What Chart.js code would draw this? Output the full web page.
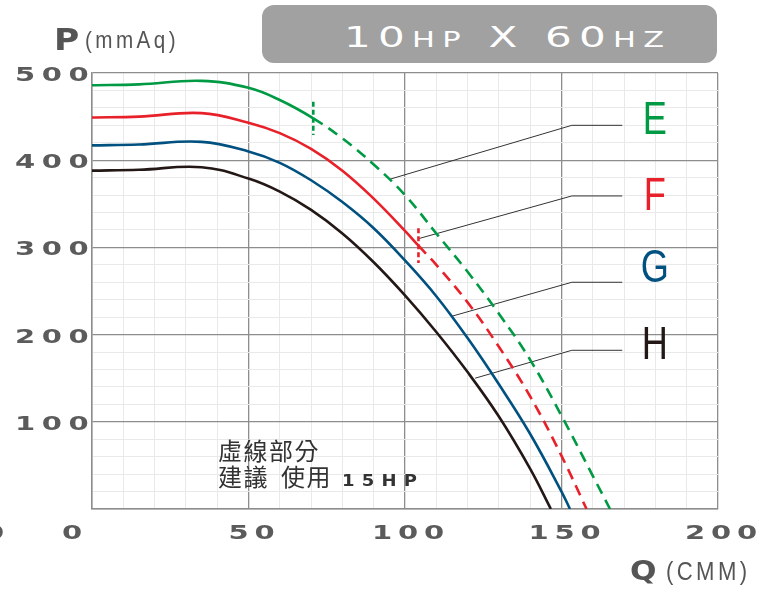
<!DOCTYPE html>
<html>
<head>
<meta charset="utf-8">
<script src="https://cdn.jsdelivr.net/npm/chart.js@4/dist/chart.umd.min.js"></script>
<style>
  body { margin: 0; background: #fff; }
  #wrap { position: relative; width: 765px; height: 593px; overflow: hidden; }
  #myChart { position: absolute; left: 0; top: 0; }
  .t { position: absolute; white-space: nowrap; line-height: 1; }
  #titleBox { position: absolute; left: 262px; top: 5px; width: 455px; height: 58px; background: #a1a1a1; border-radius: 12px; }
  #title { left: 344px; top: 23px; font-family: "DejaVu Sans"; font-size: 29px; color: #fff; letter-spacing: 5px; transform: scaleX(1.45); transform-origin: left top; }
  #title .sm { font-size: 21px; }
  #pTitle { left: 54px; top: 25px; font-family: "DejaVu Sans"; font-weight: bold; font-size: 30px; color: #555; transform: scaleX(1.15); transform-origin: left top; }
  #pUnit { left: 85px; top: 28px; font-family: "Liberation Sans"; font-size: 24px; color: #555; letter-spacing: 4px; transform: scaleX(0.86); transform-origin: left top; }
  #qTitle { left: 630px; top: 558px; font-family: "DejaVu Sans"; font-weight: bold; font-size: 26px; color: #555; transform: scaleX(1.2); transform-origin: left top; }
  #qUnit { left: 666px; top: 558px; font-family: "Liberation Sans"; font-size: 26px; color: #555; letter-spacing: 4px; transform: scaleX(0.85); transform-origin: left top; }
  .note { left: 218px; font-family: "Noto Sans CJK TC"; font-size: 24px; color: #333; letter-spacing: 1.5px; }
  .note .hp { display: inline-block; font-family: "DejaVu Sans"; font-weight: bold; font-size: 15px; letter-spacing: 6px; margin-left: 10px; transform: scaleX(1.2); transform-origin: left bottom; }
</style>
</head>
<body>
<div id="wrap">
  <canvas id="myChart" width="765" height="593"></canvas>
  <div id="titleBox"></div>
  <div class="t" id="title">10<span class="sm">HP</span> X 60<span class="sm">HZ</span></div>
  <div class="t" id="pTitle">P</div>
  <div class="t" id="pUnit">(mmAq)</div>
  <div class="t" id="qTitle">Q</div>
  <div class="t" id="qUnit">(CMM)</div>
  <div class="t note" style="top:438px">虛線部分</div>
  <div class="t note" style="top:464px">建議<span style="margin-left:12px">使用</span><span class="hp">15HP</span></div>
</div>
<script>
// curve E (green) - dashed after the marker
const qE = [0, 15, 35, 50, 60, 70.7, 80, 90, 100, 110, 120, 130, 140, 150, 160, 165.5];
const pE = [486, 487, 491, 483, 469, 448, 425, 395, 360, 316, 272, 224, 171, 107, 38, 0];
const dashFromE = 70.7;

// curve F (red)
const qF = [0, 15, 35, 50, 60, 70, 80, 90, 100, 104.3, 110, 120, 130, 140, 150, 158];
const pF = [449, 450, 454, 443, 431, 413, 388, 356, 319, 302, 280, 237, 186, 129, 61, 0];
const dashFromF = 104.3;

// curve G (blue)
const qG = [0, 15, 35, 50, 60, 70, 80, 90, 100, 110, 120, 130, 140, 150, 152.7];
const pG = [417, 418, 421, 410, 397, 377, 352, 322, 285, 244, 196, 143, 86, 20, 0];

// curve H (black)
const qH = [0, 15, 35, 50, 60, 70, 80, 90, 100, 110, 120, 130, 140, 146.6];
const pH = [388, 389, 392, 379, 364, 343, 316, 283, 245, 203, 157, 106, 46, 0];

// short vertical markers where the dashed part starts
const markE = { q: 70.7, p: [467, 429] };
const markF = { q: 104.3, p: [322, 282] };

// leader lines: point on curve -> knee -> end
const leadQ = [[95, 153.3, 169.4], [104.3, 153.3, 169.4], [114.9, 153.3, 169.4], [122.4, 153.3, 169.4]];
const leadP = [[378, 440, 440], [310, 359, 359], [221, 260, 260], [150, 182, 182]];

const curveNames = ["E", "F", "G", "H"];
const labelQ = 179.8;
const labelP = [450, 362, 280, 192];

const xTickLabels = [0, 50, 100, 150, 200];
const yTickLabels = [100, 200, 300, 400, 500];

const colors = ["#009a44", "#e8202a", "#00517f", "#231815"];

const pts = (qs, ps) => qs.map((q, i) => ({ x: q, y: ps[i] }));

function curve(qs, ps, color, dashFrom) {
  return {
    data: pts(qs, ps),
    borderColor: color,
    borderWidth: 2.6,
    tension: 0.4,
    pointRadius: 0,
    segment: {
      borderDash: c => (dashFrom !== undefined && c.p0.parsed.x >= dashFrom ? [11, 7] : undefined)
    }
  };
}

function marker(m, color) {
  return {
    data: [{ x: m.q, y: m.p[0] }, { x: m.q, y: m.p[1] }],
    borderColor: color,
    borderWidth: 2.6,
    borderDash: [5, 3],
    pointRadius: 0
  };
}

const leaders = leadQ.map((qs, i) => ({
  data: pts(qs, leadP[i]),
  borderColor: "#333",
  borderWidth: 1,
  pointRadius: 0,
  tension: 0
}));

// wide, letter spaced digits like the original tick font
function wideText(ctx, str, cx, cy, pitch, sx) {
  const n = str.length;
  for (let i = 0; i < n; i++) {
    const x = cx + (i - (n - 1) / 2) * pitch;
    ctx.save();
    ctx.translate(x, cy);
    ctx.scale(sx, 1);
    ctx.fillText(str[i], 0, 0);
    ctx.restore();
  }
}

const decor = {
  id: "decor",
  afterDatasetsDraw(chart) {
    const ctx = chart.ctx;
    const xs = chart.scales.x, ys = chart.scales.y;

    // curve names
    ctx.save();
    ctx.font = '47px "Liberation Sans"';
    ctx.textAlign = "center";
    ctx.textBaseline = "alphabetic";
    curveNames.forEach((n, i) => {
      ctx.save();
      ctx.fillStyle = colors[i];
      ctx.translate(xs.getPixelForValue(labelQ), ys.getPixelForValue(labelP[i]) + 17);
      ctx.scale(0.77, 1);
      ctx.fillText(n, 0, 0);
      ctx.restore();
    });
    ctx.restore();

    // tick labels
    ctx.save();
    ctx.font = 'bold 20px "DejaVu Sans"';
    ctx.fillStyle = "#5b5b5b";
    ctx.textAlign = "center";
    ctx.textBaseline = "alphabetic";
    yTickLabels.forEach(v => {
      const s = String(v);
      const cx = 87 - 8.5 - (s.length - 1) * 26.7 / 2;
      wideText(ctx, s, cx, ys.getPixelForValue(v) + 8, 26.7, 1.45);
    });
    xTickLabels.forEach(v => {
      const s = String(v);
      const px = xs.getPixelForValue(v);
      const cx = v === 0 ? px - 20 : px + 3;
      wideText(ctx, s, cx, 539, 26, 1.45);
      if (v === 0) wideText(ctx, s, cx - 78, 539, 26, 1.45);
    });
    ctx.restore();
  }
};

const majorX = 50, majorY = 100;

new Chart(document.getElementById("myChart"), {
  type: "line",
  data: {
    datasets: [
      curve(qE, pE, colors[0], dashFromE),
      curve(qF, pF, colors[1], dashFromF),
      curve(qG, pG, colors[2]),
      curve(qH, pH, colors[3]),
      marker(markE, colors[0]),
      marker(markF, colors[1]),
      ...leaders
    ]
  },
  options: {
    responsive: false,
    animation: false,
    layout: { padding: { top: 73, right: 47, left: 0, bottom: 0 } },
    plugins: { legend: { display: false }, tooltip: { enabled: false } },
    scales: {
      x: {
        type: "linear",
        min: 0,
        max: 200,
        ticks: { stepSize: 10, display: false },
        grid: {
          drawTicks: false,
          color: c => (c.tick.value % majorX === 0 ? "#8d8d8d" : "#e9e9e9"),
          lineWidth: c => (c.tick.value % majorX === 0 ? 1.3 : 1)
        },
        border: { color: "#8d8d8d", width: 1.5 },
        afterFit: s => { s.height = 84; }
      },
      y: {
        type: "linear",
        min: 0,
        max: 500,
        ticks: { stepSize: 20, display: false },
        grid: {
          drawTicks: false,
          color: c => (c.tick.value % majorY === 0 ? "#8d8d8d" : "#e9e9e9"),
          lineWidth: c => (c.tick.value % majorY === 0 ? 1.3 : 1)
        },
        border: { color: "#8d8d8d", width: 1.5 },
        afterFit: s => { s.width = 92; }
      }
    }
  },
  plugins: [decor]
});
</script>
</body>
</html>
